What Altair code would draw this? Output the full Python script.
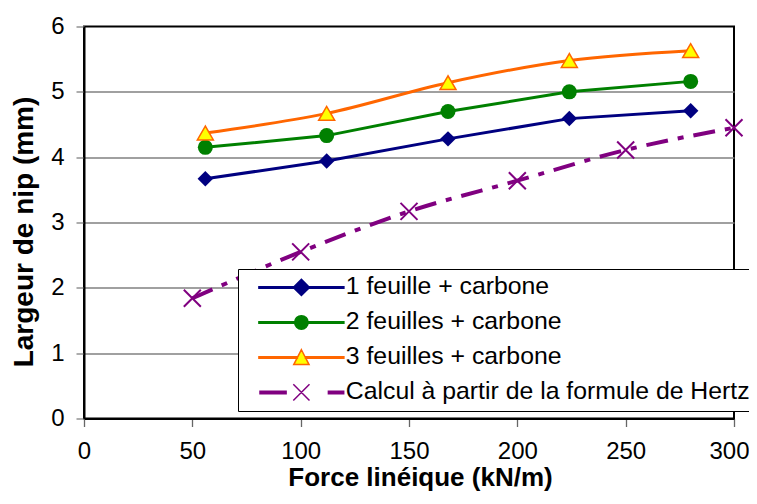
import altair as alt
import pandas as pd

# ---------------- data ----------------
force_exp = [56, 112, 168, 224, 280]
nip_1 = [3.67, 3.94, 4.28, 4.59, 4.71]
nip_2 = [4.15, 4.33, 4.70, 5.00, 5.16]
nip_3 = [4.37, 4.67, 5.14, 5.48, 5.63]
force_hertz = [50, 100, 150, 200, 250, 300]
nip_hertz = [1.84, 2.55, 3.17, 3.64, 4.11, 4.45]
series_names = [
    "1 feuille + carbone",
    "2 feuilles + carbone",
    "3 feuilles + carbone",
    "Calcul à partir de la formule de Hertz",
]
x_ticks = [0, 50, 100, 150, 200, 250, 300]
y_ticks = [0, 1, 2, 3, 4, 5, 6]
x_title = "Force linéique (kN/m)"
y_title = "Largeur de nip (mm)"

rows = []
for name, vals in zip(series_names[:3], [nip_1, nip_2, nip_3]):
    for f, v in zip(force_exp, vals):
        rows.append({"series": name, "force": f, "nip": v})
for f, v in zip(force_hertz, nip_hertz):
    rows.append({"series": series_names[3], "force": f, "nip": v})
df = pd.DataFrame(rows)

# ---------------- styles ----------------
NAVY = "#000080"
GREEN = "#008000"
ORANGE = "#FF6600"
YELLOW = "#FFFF00"
PURPLE = "#800080"
FONT = "Liberation Sans"
X_PATH = "M-1,-1L1,1M-1,1L1,-1"

x_enc = alt.X(
    "force:Q",
    scale=alt.Scale(domain=[0, 300], nice=False),
    axis=alt.Axis(
        values=x_ticks, title=x_title, grid=False, labelFlush=False,
        labelOffset={"condition": {"test": "datum.value === 300", "value": -5}, "value": 0},
        domainColor="black", domainWidth=2,
        tickColor="#666666", tickWidth=1.3, tickSize=8,
        labelFontSize=24, labelColor="black", labelPadding=13, labelFont=FONT,
        titleFontSize=26, titleFontWeight="bold", titleColor="black", titleFont=FONT,
        titleBaseline="alphabetic", titleY=67, titleX=336,
    ),
)
y_enc = alt.Y(
    "nip:Q",
    scale=alt.Scale(domain=[0, 6], nice=False),
    axis=alt.Axis(
        values=y_ticks, title=y_title, grid=True,
        gridColor="#808080", gridWidth=1.3,
        gridOpacity={"condition": {"test": "datum.value === 0 || datum.value === 6", "value": 0}, "value": 1},
        domainColor="black", domainWidth=2,
        tickColor="#808080", tickWidth=1.3, tickSize=8,
        labelFontSize=24, labelColor="black", labelPadding=12, labelFont=FONT,
        titleFontSize=28, titleFontWeight="bold", titleColor="black", titleFont=FONT,
        titleBaseline="middle", titleX=-60, titleY=205, titleAngle=-90,
    ),
)


def sel(name):
    return alt.Chart(df).transform_filter(alt.datum.series == name)


hertz_line = sel(series_names[3]).mark_line(
    color=PURPLE, strokeWidth=4, strokeDash=[22, 10, 6, 10], interpolate="monotone"
).encode(x=x_enc, y=y_enc)
hertz_pts = sel(series_names[3]).mark_point(
    shape=X_PATH, size=289, filled=False, color=PURPLE, strokeWidth=2, opacity=1
).encode(x=x_enc, y=y_enc)

blue_line = sel(series_names[0]).mark_line(color=NAVY, strokeWidth=3).encode(x=x_enc, y=y_enc)
blue_pts = sel(series_names[0]).mark_point(
    shape="diamond", filled=True, size=240, color=NAVY, opacity=1
).encode(x=x_enc, y=y_enc)

green_line = sel(series_names[1]).mark_line(color=GREEN, strokeWidth=3).encode(x=x_enc, y=y_enc)
green_pts = sel(series_names[1]).mark_point(
    shape="circle", filled=True, size=225, color=GREEN, opacity=1
).encode(x=x_enc, y=y_enc)

orange_line = sel(series_names[2]).mark_line(
    color=ORANGE, strokeWidth=3, interpolate="monotone"
).encode(x=x_enc, y=y_enc)
orange_pts = sel(series_names[2]).mark_point(
    shape="triangle-up", filled=True, size=256, fill=YELLOW, stroke=ORANGE,
    strokeWidth=1.5, opacity=1
).encode(x=x_enc, y=y_enc)

# ---------------- legend (line + marker symbols) ----------------
leg_paths = [
    "M-4.72,-0.083H4.72V0.083H-4.72Z M0,-0.9L0.9,0L0,0.9L-0.9,0Z",
    "M-4.72,-0.083H4.72V0.083H-4.72Z M-0.75,0A0.75,0.75 0 1,1 0.75,0A0.75,0.75 0 1,1 -0.75,0Z",
    "M-4.72,-0.083H-0.45V0.083H-4.72Z M0.45,-0.083H4.72V0.083H0.45Z M0,-0.85L0.85,0.8L-0.85,0.8Z",
    "M-4.6,-0.139H-1.7V0.139H-4.6Z M3.0,-0.139H4.7V0.139H3.0Z M-0.9,-0.9L0.9,0.9M-0.9,0.9L0.9,-0.9",
]
leg_fills = [NAVY, GREEN, YELLOW, PURPLE]
leg_strokes = [NAVY, GREEN, ORANGE, PURPLE]

leg = alt.Legend(
    title=None, orient="none", legendX=154, legendY=242.5,
    symbolSize=324, symbolStrokeWidth=1.5, symbolOffset=45, symbolOpacity=1,
    labelOffset=32, labelFontSize=24.8, labelFont=FONT, labelColor="black",
    labelLimit=1000, rowPadding=9, padding=6,
    strokeColor="black", fillColor="white",
)
legend_df = pd.DataFrame({"series": series_names})
legend_layer = alt.Chart(legend_df).transform_filter("false").mark_point(opacity=1).encode(
    shape=alt.Shape("series:N", scale=alt.Scale(domain=series_names, range=leg_paths), legend=leg),
    fill=alt.Fill("series:N", scale=alt.Scale(domain=series_names, range=leg_fills), legend=leg),
    stroke=alt.Stroke("series:N", scale=alt.Scale(domain=series_names, range=leg_strokes), legend=leg),
)

chart = alt.layer(
    hertz_line, hertz_pts,
    blue_line, blue_pts,
    green_line, green_pts,
    orange_line, orange_pts,
    legend_layer,
).properties(
    width=650, height=392,
    autosize=alt.AutoSizeParams(type="none"),
    padding={"left": 76, "top": 18.5, "right": 15, "bottom": 72},
).configure(font=FONT).configure_view(stroke="black", strokeWidth=2)

chart.save("out.html", embed_options={"renderer": "svg", "actions": False})
